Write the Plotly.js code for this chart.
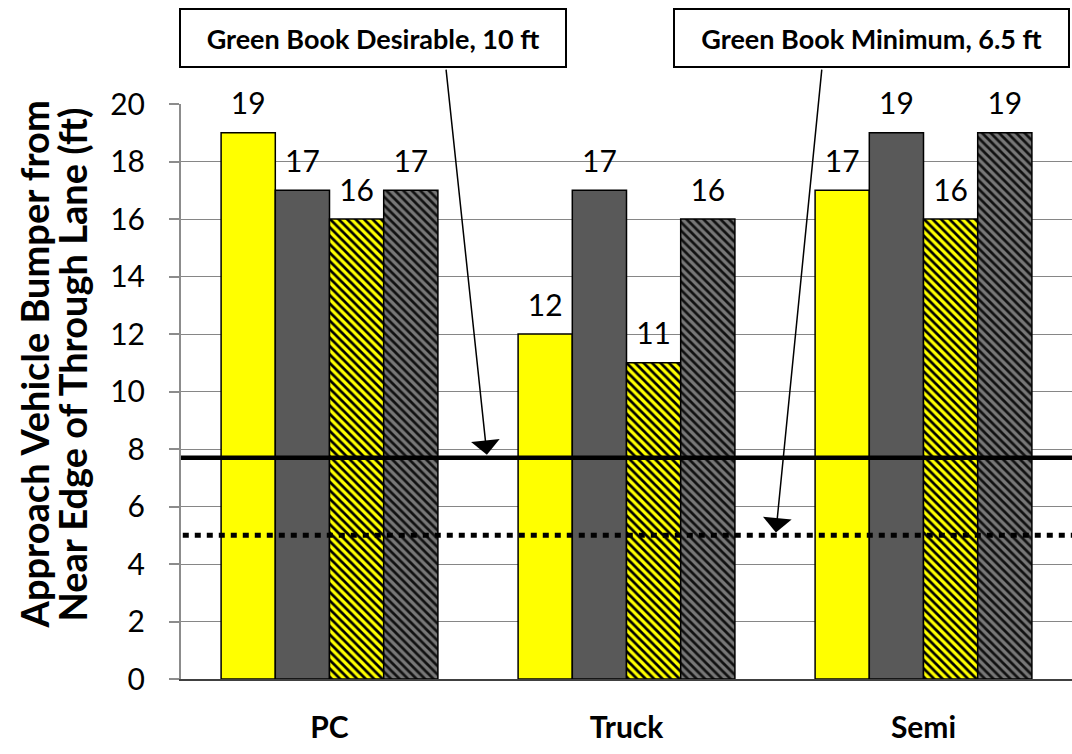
<!DOCTYPE html>
<html>
<head>
<meta charset="utf-8">
<script src="https://cdn.plot.ly/plotly-3.0.1.min.js"></script>
<style>html,body{margin:0;padding:0;background:#fff;}#chart{width:1072px;height:754px;}</style>
</head>
<body>
<div id="chart"></div>
<script>
// ---- data ----
const categories = ['PC', 'Truck', 'Semi'];
const yellowSolid = [19, 12, 17];
const graySolid = [17, 17, 19];
const yellowHatched = [16, 11, 16];
const grayHatched = [17, 16, 19];
const desirableLineY = 7.7;
const minimumLineY = 5;
const desirableLabel = 'Green Book Desirable, 10 ft';
const minimumLabel = 'Green Book Minimum, 6.5 ft';
const yTitleLines = ['Approach Vehicle Bumper from', 'Near Edge of Through Lane (ft)'];

const FONT = 'Lato, "Open Sans", sans-serif';

const series = [
  {name: 'Yellow', values: yellowSolid, color: '#FFFF00', pattern: null},
  {name: 'Gray', values: graySolid, color: '#595959', pattern: null},
  {name: 'Yellow hatched', values: yellowHatched, color: '#FFFF00',
   pattern: {shape: '\\', fgcolor: '#000000', bgcolor: '#FFFF00', size: 6, solidity: 0.45}},
  {name: 'Gray hatched', values: grayHatched, color: '#777777',
   pattern: {shape: '\\', fgcolor: '#111111', bgcolor: '#777777', size: 6, solidity: 0.45}}
];

const traces = [];
series.forEach((s, i) => {
  const marker = {color: s.color, line: {color: '#000000', width: 1.5}};
  if (s.pattern) marker.pattern = s.pattern;
  traces.push({
    type: 'bar', x: categories, y: s.values, name: s.name,
    offsetgroup: 'g' + i, marker: marker, hoverinfo: 'skip', showlegend: false
  });
});
series.forEach((s, i) => {
  traces.push({
    type: 'scatter', mode: 'markers+text', x: categories, y: s.values,
    text: s.values.map(String), textposition: 'top center',
    textfont: {family: FONT, size: 30, color: '#000000'},
    marker: {size: 16, color: 'rgba(0,0,0,0)'},
    offsetgroup: 'g' + i, cliponaxis: false, hoverinfo: 'skip', showlegend: false
  });
});

const layout = {
  width: 1072, height: 754,
  margin: {l: 181, r: 0, t: 104, b: 75, pad: 0},
  paper_bgcolor: '#ffffff', plot_bgcolor: '#ffffff',
  barmode: 'group', bargap: 0.27, bargroupgap: 0,
  scattermode: 'group', scattergap: 0.27,
  showlegend: false,
  font: {family: FONT, color: '#000000'},
  xaxis: {
    type: 'category', range: [-0.5, 2.5],
    showline: true, linecolor: '#404040', linewidth: 1.5,
    ticks: '', showgrid: false, zeroline: false,
    tickfont: {family: FONT, size: 30, weight: 'bold', color: '#000000'},
    ticklabelstandoff: 21
  },
  yaxis: {
    range: [0, 20], dtick: 2, tick0: 0,
    ticks: 'outside', ticklen: 10, tickwidth: 2, tickcolor: '#8c8c8c',
    showline: true, linecolor: '#8c8c8c', linewidth: 2,
    showgrid: true, gridcolor: '#868686', gridwidth: 1, zeroline: false,
    tickfont: {family: FONT, size: 30, color: '#000000'},
    ticklabelstandoff: 18
  },
  shapes: [
    {type: 'line', xref: 'paper', x0: 0, x1: 1, yref: 'y', y0: desirableLineY, y1: desirableLineY,
     line: {color: '#000000', width: 4.5}, layer: 'above'},
    {type: 'line', xref: 'paper', x0: 0.002, x1: 1, yref: 'y', y0: minimumLineY, y1: minimumLineY,
     line: {color: '#000000', width: 5, dash: '6px,6px'}, layer: 'above'}
  ],
  annotations: [
    {xref: 'paper', yref: 'paper', x: -0.1639, y: 0.547, xanchor: 'center', yanchor: 'middle',
     text: yTitleLines[0], textangle: -90, showarrow: false,
     font: {family: FONT, size: 38, weight: 'bold', color: '#000000'}},
    {xref: 'paper', yref: 'paper', x: -0.1223, y: 0.547, xanchor: 'center', yanchor: 'middle',
     text: yTitleLines[1], textangle: -90, showarrow: false,
     font: {family: FONT, size: 38, weight: 'bold', color: '#000000'}},
    {xref: 'paper', yref: 'paper', x: 0.2155, y: 1.1148, xanchor: 'center', yanchor: 'middle',
     text: desirableLabel, showarrow: false, bgcolor: '#ffffff', bordercolor: '#000000',
     borderwidth: 2, borderpad: 0, width: 384, height: 56,
     font: {family: FONT, size: 27, weight: 'bold', color: '#000000'}},
    {xref: 'paper', yref: 'paper', x: 0.7755, y: 1.1148, xanchor: 'center', yanchor: 'middle',
     text: minimumLabel, showarrow: false, bgcolor: '#ffffff', bordercolor: '#000000',
     borderwidth: 2, borderpad: 0, width: 393, height: 56,
     font: {family: FONT, size: 27, weight: 'bold', color: '#000000'}},
    {xref: 'x', yref: 'y', x: 0.53, y: 7.8, axref: 'x', ayref: 'y', ax: 0.392, ay: 21.25,
     text: '', showarrow: true, arrowhead: 1, arrowsize: 3.2, arrowwidth: 1.5, arrowcolor: '#000000'},
    {xref: 'x', yref: 'y', x: 1.503, y: 5.1, axref: 'x', ayref: 'y', ax: 1.658, ay: 21.25,
     text: '', showarrow: true, arrowhead: 1, arrowsize: 3.2, arrowwidth: 1.5, arrowcolor: '#000000'}
  ]
};

Plotly.newPlot('chart', traces, layout, {displayModeBar: false, staticPlot: true});
</script>
</body>
</html>
